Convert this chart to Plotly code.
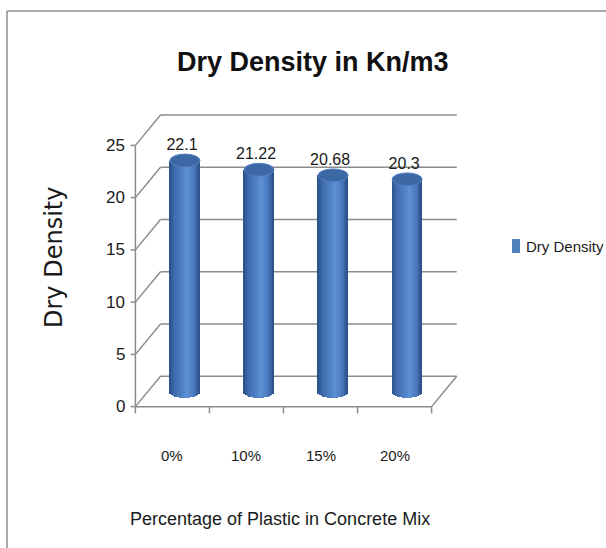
import plotly.graph_objects as go

categories = ["0%", "10%", "15%", "20%"]
values = [22.1, 21.22, 20.68, 20.3]
y_ticks = [0, 5, 10, 15, 20, 25]
series_name = "Dry Density"
title_text = "Dry Density in Kn/m3"
x_title = "Percentage of Plastic in Concrete Mix"
y_title = "Dry Density"

W, H = 606, 548
ML, MR, MT, MB = 128, 147, 113, 133
XR = [-0.6, 3.87]
YR = [-0.8, 28.1]
DX, DY = 0.339, 2.9          # depth offset of the back wall (data units)
CX, CY = DX / 2, DY / 2      # cylinder sits at mid depth
HW, HH = 0.2025, 0.62        # cylinder half width / cap half height
GRID = "#8c8c8c"
FONT = "Liberation Sans, Arial, sans-serif"
TXT = "#1a1a1a"

pw, ph = W - ML - MR, H - MT - MB


def px_x(p):
    return (p - ML) / pw


def px_y(p):
    return (H - MB - p) / ph


def lerp(c1, c2, t):
    return tuple(int(round(a + (b - a) * t)) for a, b in zip(c1, c2))


stops = [(0.0, (40, 78, 132)), (0.15, (60, 106, 172)), (0.6, (94, 144, 214)),
         (0.85, (70, 116, 186)), (1.0, (38, 74, 124))]


def grad(t):
    for (t0, c0), (t1, c1) in zip(stops[:-1], stops[1:]):
        if t0 <= t <= t1:
            return "rgb(%d,%d,%d)" % lerp(c0, c1, (t - t0) / (t1 - t0))
    return "rgb(%d,%d,%d)" % stops[-1][1]


fig = go.Figure()

N = 18
sw = 2 * HW / N
xs_c = [i + CX for i in range(len(categories))]
for k in range(N):
    u = -1 + (k + 0.5) * 2 / N
    bot = HH * (1 - u * u) ** 0.5
    xk = [xc + u * HW for xc in xs_c]
    bases = [CY - bot for _ in values]
    heights = [v + CY - b for v, b in zip(values, bases)]
    fig.add_trace(go.Bar(x=xk, y=heights, base=bases, width=sw * 1.15,
                         marker=dict(color=grad((k + 0.5) / N), line=dict(width=0)),
                         showlegend=False, hoverinfo="skip"))

# data labels
fig.add_trace(go.Scatter(x=[xc - 0.04 for xc in xs_c], y=[v + CY + HH for v in values],
                         mode="text", text=[str(v) for v in values],
                         textposition="top center",
                         textfont=dict(family=FONT, size=16, color=TXT),
                         showlegend=False, hoverinfo="skip", cliponaxis=False))

shapes = []
line = dict(color=GRID, width=1.5)
x0, x1 = -0.5, len(categories) - 0.5
# back wall gridlines and left wall diagonals
for v in y_ticks:
    shapes.append(dict(type="line", xref="x", yref="y", x0=x0 + DX, x1=x1 + DX,
                       y0=v + DY, y1=v + DY, line=line, layer="below"))
    shapes.append(dict(type="line", xref="x", yref="y", x0=x0, x1=x0 + DX,
                       y0=v, y1=v + DY, line=line, layer="below"))
    shapes.append(dict(type="line", xref="x", yref="y", x0=x0 - 0.065, x1=x0,
                       y0=v, y1=v, line=line, layer="below"))
# front y axis and floor
shapes.append(dict(type="line", xref="x", yref="y", x0=x0, x1=x0, y0=0, y1=y_ticks[-1],
                   line=line, layer="below"))
shapes.append(dict(type="line", xref="x", yref="y", x0=x0, x1=x1, y0=0, y1=0,
                   line=line, layer="below"))
shapes.append(dict(type="line", xref="x", yref="y", x0=x1, x1=x1 + DX, y0=0, y1=DY,
                   line=line, layer="below"))
for j in range(len(categories) + 1):
    xt = x0 + j
    shapes.append(dict(type="line", xref="x", yref="y", x0=xt, x1=xt, y0=0, y1=-0.65,
                       line=line, layer="below"))
# cylinder caps
for xc, v in zip(xs_c, values):
    shapes.append(dict(type="circle", xref="x", yref="y",
                       x0=xc - HW, x1=xc + HW, y0=v + CY - HH, y1=v + CY + HH,
                       fillcolor="rgb(60,104,166)", line=dict(color="rgb(84,128,192)", width=1),
                       layer="above"))
# outer frame
shapes.append(dict(type="line", xref="paper", yref="paper", x0=px_x(7), x1=px_x(7),
                   y0=px_y(11), y1=px_y(560), line=dict(color=GRID, width=1.5)))
shapes.append(dict(type="line", xref="paper", yref="paper", x0=px_x(7), x1=px_x(620),
                   y0=px_y(11), y1=px_y(11), line=dict(color=GRID, width=1.5)))
# legend swatch
shapes.append(dict(type="rect", xref="paper", yref="paper", x0=px_x(512), x1=px_x(520),
                   y0=px_y(253), y1=px_y(239), fillcolor="#4F81BD", line=dict(width=0)))

ann = []
for v in y_ticks:
    ann.append(dict(x=x0, y=v, xref="x", yref="y", text=str(v), showarrow=False,
                    xanchor="right", yanchor="middle", xshift=-8,
                    font=dict(family=FONT, size=17, color=TXT)))
for i, c in enumerate(categories):
    ann.append(dict(x=i, y=0, xref="x", yref="y", text=c, showarrow=False,
                    xanchor="center", yanchor="middle", yshift=-49,
                    font=dict(family=FONT, size=15, color=TXT)))
ann.append(dict(x=px_x(280), y=px_y(519), xref="paper", yref="paper", text=x_title,
                showarrow=False, xanchor="center", yanchor="middle",
                font=dict(family=FONT, size=18, color=TXT)))
ann.append(dict(x=px_x(54), y=px_y(258), xref="paper", yref="paper", text=y_title,
                showarrow=False, textangle=-90, xanchor="center", yanchor="middle",
                font=dict(family="DejaVu Sans, Verdana, sans-serif", size=24, color=TXT)))
ann.append(dict(x=px_x(524), y=px_y(246), xref="paper", yref="paper", text=series_name,
                showarrow=False, xanchor="left", yanchor="middle",
                font=dict(family=FONT, size=15, color=TXT)))
ann.append(dict(x=px_x(313), y=px_y(62), xref="paper", yref="paper", text="<b>" + title_text + "</b>",
                showarrow=False, xanchor="center", yanchor="middle",
                font=dict(family=FONT, size=27, color="#111111")))

fig.update_layout(
    width=W, height=H, margin=dict(l=ML, r=MR, t=MT, b=MB, autoexpand=False),
    paper_bgcolor="white", plot_bgcolor="white", barmode="overlay", bargap=0,
    showlegend=False, shapes=shapes, annotations=ann,
    xaxis=dict(range=XR, visible=False, fixedrange=True),
    yaxis=dict(range=YR, visible=False, fixedrange=True),
)

fig.write_html("out.html", config={"displayModeBar": False},
               post_script="document.body.style.margin='0';")
